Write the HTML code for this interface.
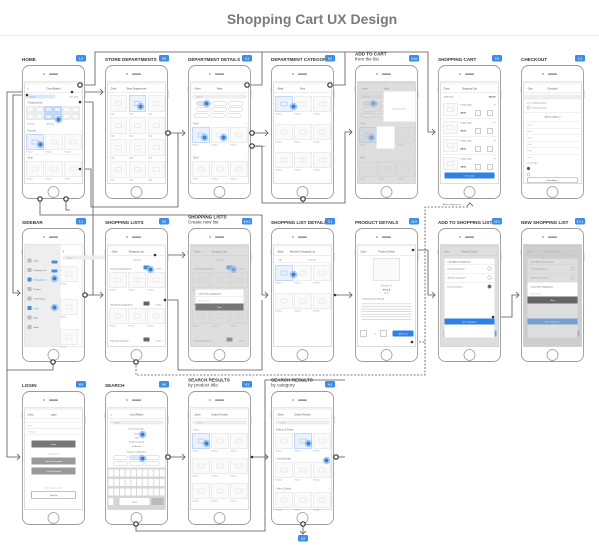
<!DOCTYPE html>
<html><head><meta charset="utf-8"><style>
html,body{margin:0;padding:0;background:#fff;width:599px;height:551px;overflow:hidden}
svg{display:block}
</style></head><body>
<svg id="s" width="599" height="551" viewBox="0 0 599 551" xmlns="http://www.w3.org/2000/svg" font-family="Liberation Sans, sans-serif">
<rect width="599" height="551" fill="#fff"/>
<text x="312" y="24" text-anchor="middle" font-size="14" font-weight="bold" fill="#7a7a7a">Shopping Cart UX Design</text>
<line x1="0" y1="35.5" x2="599" y2="35.5" stroke="#ececec" stroke-width="1"/>
<g id="g"></g>
</svg>
<script>
var g=document.getElementById('g');var out='';
function R(x,y,w,h,f,s,rx,sw){out+='<rect x="'+x+'" y="'+y+'" width="'+w+'" height="'+h+'" fill="'+(f||'none')+'" stroke="'+(s||'none')+'" stroke-width="'+(sw||0.6)+'" rx="'+(rx||0)+'"/>';}
function T(x,y,t,sz,c,b,a){out+='<text x="'+x+'" y="'+y+'" font-size="'+(sz||2.4)+'" fill="'+(c||'#777')+'"'+(b?' font-weight="bold"':'')+(a?' text-anchor="'+a+'"':'')+'>'+t+'</text>';}
function L(p,dash,c){out+='<polyline points="'+p+'" fill="none" stroke="'+(c||'#555')+'" stroke-width="0.8"'+(dash?' stroke-dasharray="2,1.5"':'')+'/>';}
function A(x,y,d){
 var s=3;var p;
 if(d=='r')p=(x-s)+','+(y-s)+' '+x+','+y+' '+(x-s)+','+(y+s);
 if(d=='d')p=(x-s)+','+(y-s)+' '+x+','+y+' '+(x+s)+','+(y-s);
 if(d=='u')p=(x-s)+','+(y+s)+' '+x+','+y+' '+(x+s)+','+(y+s);
 out+='<polyline points="'+p+'" fill="none" stroke="#555" stroke-width="0.8"/>';}
function N(x,y,ring){ if(ring){out+='<circle cx="'+x+'" cy="'+y+'" r="2.2" fill="#fff" stroke="#333" stroke-width="1.2"/>';} else out+='<circle cx="'+x+'" cy="'+y+'" r="1.3" fill="#333"/>';}
function tap(x,y){out+='<circle cx="'+x+'" cy="'+y+'" r="3.4" fill="#bcd7f7" stroke="#3b8de8" stroke-width="0.5" stroke-dasharray="1,0.6"/><circle cx="'+x+'" cy="'+y+'" r="2" fill="#2f80e6"/>';}
function img(x,y,w,h,c){R(x,y,w,h,c||'#fafafa',c?'#8fb8ee':'#ddd',0,0.5);R(x+w/2-3,y+h/2-2,6,4,'none',c?'#8fb8ee':'#ddd',0,0.5);}
function grid(x,y,rows,cols,gh,hl){var w=17,h=15;for(var r=0;r<rows;r++)for(var c=0;c<cols;c++){var bx=x+2+c*19,by=y+r*gh;img(bx,by,w,h,hl&&hl[0]==r&&hl[1]==c?'#eaf2fd':null);T(bx,by+18,'Product',1.8,'#888');}}
var cols=[22,105,188,271,355,438,521];
var rows=[65,228,391];
function phone(x,y,label,badge,two,fn){
 R(x+0.5,y+0.5,62,133,'#fff','#9a9a9a',7,0.9);
 R(x-0.3,y+22,0.8,5,'#aaa');R(x+62.5,y+25,0.8,8,'#aaa');
 out+='<circle cx="'+(x+22)+'" cy="'+(y+9)+'" r="0.8" fill="#777"/>';R(x+27,y+8.5,9,1.2,'#777','',0.6);
 out+='<circle cx="'+(x+31.5)+'" cy="'+(y+127)+'" r="5.5" fill="#fff" stroke="#9a9a9a" stroke-width="0.8"/>';
 R(x+2.5,y+16.5,58,102,'#fff','#bbb',0,0.5);
 var sx=x+2.5,sy=y+16.5;
 fn(sx,sy);
 if(two){T(x,y-9.5,label,4.6,'#333',1);T(x,y-4.5,two,4.6,'#444');}
 else T(x,y-4,label,4.6,'#333',1);
 R(x+54,y-10,10,6.5,'#3b8de8','',1.5);T(x+59,y-5.3,badge,3,'#fff',1,'middle');
}
function nav(sx,sy,l,c,dim){R(sx,sy,58,2.5,'#f3f3f3');T(sx+3,sy+8,l,2.4,'#555');T(sx+29,sy+8,c,2.4,'#555',0,'middle');out+='<line x1="'+sx+'" y1="'+(sy+11)+'" x2="'+(sx+58)+'" y2="'+(sy+11)+'" stroke="#ddd" stroke-width="0.5"/>';}
function search(sx,sy,y){R(sx+2,sy+y,54,4,'#eee','',1);T(sx+6,sy+y+3,'Search',2,'#999');}
function dim(sx,sy){R(sx,sy,58,102,'rgba(190,190,190,0.5)');}
function sec(sx,sy,y,t){T(sx+3,sy+y,t,2.4,'#777');T(sx+55,sy+y,'›',3,'#777');}
var S={};
S.home=function(x,y){nav(x,y,'≡','Good Market');R(x+1,y+13,30,4,'#dbe8f8','',1);T(x+5,y+16,'Search',2,'#3b8de8');T(x+45,y+16,'New Dept',2,'#3b8de8');
 sec(x,y,22,'Shopping lists');for(var i=0;i<6;i++){img(x+2+i*9,y+25,8,6,i==2||i==3?'#eaf2fd':null);img(x+2+i*9,y+32,8,6,i==2||i==3?'#eaf2fd':null);}T(x+3,y+43,'Evening',1.8);T(x+22,y+43,'Weekend',1.8,'#3b8de8');
 tap(x+34,y+38);sec(x,y,50,'Popular');grid(x,y+53,1,3,0,[0,0]);tap(x+16,y+63);R(x,y+73,58,0.4,'#ddd');sec(x,y,77,'Meat');grid(x,y+80,1,3,0);}
S.dept=function(x,y){nav(x,y,'Close','Store Departments');for(var r=0;r<4;r++)for(var c=0;c<3;c++){img(x+3+c*19,y+14+r*22,16,16,r==0&&c==1?'#eaf2fd':null);T(x+3+c*19,y+33+r*22,'Dept',1.8);}tap(x+33,y+25);}
S.detail=function(x,y){nav(x,y,'‹ Store','Meat');search(x,y,13);var ch=[[6,20],[22,20],[38,20],[6,26],[22,26],[38,26],[4,32],[20,32],[36,32]];ch.forEach(function(p,i){R(x+p[0],y+p[1],14,4,i==0?'#dbe8f8':'#fff','#bbb',2,0.4);});tap(x+16,y+22);
 sec(x,y,43,'Pork');grid(x,y+46,1,3,0,[0,0]);tap(x+14,y+56);tap(x+33,y+56);sec(x,y,77,'Beef');grid(x,y+80,1,3,0);}
S.cat=function(x,y){nav(x,y,'‹ Back','Pork');grid(x,y+15,3,3,28,[0,0]);tap(x+20,y+25);}
S.addcart=function(x,y){S.detail(x,y);dim(x,y);R(x+26,y+10,32,30,'#fff');T(x+42,y+28,'Drag product here',1.8,'#999',0,'middle');R(x+19,y+45,18,22,'#fff');};
S.cart=function(x,y){nav(x,y,'Close','Shopping Cart');T(x+3,y+16,'Total Price',2.2,'#555');T(x+55,y+16,'$35.00',2.2,'#333',1,'end');for(var i=0;i<4;i++){var yy=y+20+i*18;img(x+3,yy+2,14,12);T(x+20,yy+4,'Product item',2,'#555');T(x+20,yy+12,'$4.00',2.2,'#333',1);R(x+35,yy+9,5,5,'#fff','#aaa');R(x+47,yy+9,5,5,'#fff','#aaa');T(x+55,yy+4,'×',3,'#777','', 'end');R(x,yy+17,58,0.4,'#ddd');}
 R(x+4,y+91,50,6,'#2f80e6','',1);T(x+29,y+95,'Checkout',2.2,'#fff',0,'middle');}
S.checkout=function(x,y){nav(x,y,'‹ Cart','Checkout');R(x,y+13,58,5,'#eee');T(x+3,y+22,'Choose shipping address',1.8);out+='<circle cx="'+(x+5)+'" cy="'+(y+26)+'" r="1.5" fill="none" stroke="#888" stroke-width="0.4"/>';T(x+8,y+27,'Chernivtsi, Ukraine',1.8);R(x,y+31,58,0.4,'#ddd');T(x+29,y+36,'Add New Address',2,'#555',0,'middle');
 for(var i=0;i<6;i++){R(x+2,y+40+i*6.5,54,0.4,'#ddd');T(x+4,y+44+i*6.5,'Field',1.8,'#aaa');}T(x+3,y+82,'Location Type',1.8);out+='<circle cx="'+(x+5)+'" cy="'+(y+87)+'" r="1.6" fill="#555"/><circle cx="'+(x+5)+'" cy="'+(y+93)+'" r="1.6" fill="none" stroke="#888" stroke-width="0.4"/>';R(x+4,y+96,50,5,'#fff','#999',1);T(x+29,y+99.5,'Save Address',1.8,'#555',0,'middle');}
S.sidebar=function(x,y){R(x,y,36,102,'#eee');var it=['Store','Shopping Cart','Shopping Lists','Recipes','Order History','Login','Help','About'];it.forEach(function(t,i){R(x+3,y+14+i*9.5,4,4,i==2||i==5?'#3b8de8':'#bbb');T(x+9,y+17+i*9.5,t,2,i==2||i==5?'#3b8de8':'#666');});
 R(x+27,y+16,6,3,'#3b8de8','',1);R(x+27,y+25,6,3,'#3b8de8','',1);tap(x+30,y+34);tap(x+30,y+63);R(x+36,y,22,102,'#fff');T(x+38,y+8,'≡',3,'#666');search(x+36,y-2,13);grid(x+34,y+22,1,1,0);grid(x+34,y+55,1,1,0);grid(x+34,y+85,1,1,0);}
S.lists=function(x,y){nav(x,y,'‹ Store','Shopping Lists');T(x+29,y+16,'+ New List',2,'#3b8de8',0,'middle');var t=['Evening shopping list','Weekend shopping list','Favourite products'];for(var i=0;i<3;i++){var yy=y+21+i*36;T(x+3,yy+4,t[i],2.2,'#555');R(x+36,yy,6,4,i==0?'#3b8de8':'#666','',0.5);T(x+55,yy+4,'4 items ›',1.8,'#777',0,'end');if(i<2)grid(x,yy+7,1,3,0);}tap(x+43,y+25);}
S.newlist=function(x,y){S.lists(x,y);dim(x,y);R(x+5,y+45,48,20,'#fff');T(x+8,y+50,'Cancel   New shopping list',2,'#444');R(x+5,y+52,48,0.4,'#ddd');T(x+8,y+57,'Enter a name',1.8,'#aaa');R(x+5,y+59,48,7,'#777');T(x+29,y+63.5,'Save',2,'#fff',0,'middle');}
S.listdet=function(x,y){nav(x,y,'‹ Back','Weekend Shopping List');T(x+5,y+16,'Edit',2);T(x+35,y+16,'Remove',2);R(x,y+18,58,0.4,'#ddd');grid(x,y+21,2,3,28,[0,0]);tap(x+20,y+30);}
S.prod=function(x,y){nav(x,y,'Close','Product Details');R(x+16,y+14,26,22,'#fafafa','#ccc',0,0.5);T(x+29,y+42,'Product X',2.6,'#999',0,'middle');T(x+29,y+46,'Price $',2.2,'#444',1,'middle');T(x+29,y+49,'per lb',1.8,'#777',0,'middle');T(x+5,y+55,'Details   Nutrition   Related',2,'#666');for(var i=0;i<7;i++)R(x+4,y+59+i*2.6,50,0.7,'#ccc');R(x+3,y+86,6,6,'#fff','#aaa');T(x+17,y+90,'1',2.2,'#555');R(x+23,y+86,6,6,'#fff','#aaa');R(x+35,y+86,21,6,'#2f80e6','',1);T(x+45.5,y+90,'Add to Cart',1.8,'#fff',0,'middle');}
S.addlist=function(x,y){S.prod(x,y);dim(x,y);R(x+4,y+14,50,79,'#fff');T(x+7,y+18,'Close   Add to Shopping list',2,'#444');var t=['Evening shopping list','Weekend shopping list','Favourite products'];for(var i=0;i<3;i++){R(x+4,y+20+i*9,50,0.4,'#ddd');T(x+7,y+25+i*9,t[i],1.8,'#666');out+='<circle cx="'+(x+49)+'" cy="'+(y+24+i*9)+'" r="1.8" fill="'+(i==2?'#666':'none')+'" stroke="#888" stroke-width="0.4"/>';}R(x+4,y+74,50,6,'#2f80e6');T(x+29,y+78,'New shopping list',1.8,'#fff',0,'middle');}
S.newlist2=function(x,y){S.addlist(x,y);dim(x,y);R(x+4,y+38,50,19,'#fff');T(x+7,y+43,'Cancel   New shopping list',2,'#444');T(x+7,y+50,'Enter a name',1.8,'#aaa');R(x+4,y+52,50,7,'#666');T(x+29,y+56.5,'Save',2,'#fff',0,'middle');}
S.login=function(x,y){nav(x,y,'Close','Login');R(x,y+15,58,6,'#fff','#ddd',0,0.4);T(x+3,y+19,'Email',1.8,'#aaa');R(x,y+21,58,6,'#fff','#ddd',0,0.4);T(x+3,y+25,'Password',1.8,'#aaa');R(x+7,y+33,44,7,'#777','',0.5);T(x+29,y+37.5,'Login',2,'#fff',0,'middle');T(x+29,y+47,'Login with social',1.6,'#aaa',0,'middle');R(x+7,y+50,44,7,'#999');T(x+29,y+54.5,'Login with Facebook',1.8,'#fff',0,'middle');R(x+7,y+60,44,7,'#999');T(x+29,y+64.5,'Login with Google',1.8,'#fff',0,'middle');T(x+29,y+81,"Don't have an account?",1.6,'#aaa',0,'middle');R(x+7,y+84,44,7,'#fff','#888',0.5);T(x+29,y+88.5,'Sign Up',2,'#555',0,'middle');}
S.search=function(x,y){nav(x,y,'≡','Good Market');search(x,y,13);T(x+29,y+22,'Latest Searches',2.2,'#666',0,'middle');T(x+29,y+27,'apple',2,'#3b8de8',0,'middle');T(x+29,y+31,'milk',2,'#666',0,'middle');T(x+29,y+35,'butternut squash',2,'#666',0,'middle');T(x+29,y+39.5,'shell steak',2,'#666',0,'middle');tap(x+35,y+27);T(x+29,y+45,'Popular Categories',2.2,'#666',0,'middle');for(var i=0;i<6;i++)R(x+6+(i%3)*16,y+48+Math.floor(i/3)*6,14,4,i==1?'#dbe8f8':'#fff','#bbb',2,0.4);tap(x+35,y+51);
 R(x,y+60,58,42,'#d6d6d6');for(var r=0;r<4;r++)for(var c=0;c<10;c++){if(r==3&&c>0)continue;R(x+1+c*5.7,y+62+r*9.5,4.8,7,'#fff','',0.5);}R(x+12,y+90.5,30,7,'#fff');T(x+27,y+95,'space',1.8,'#555',0,'middle');R(x+44,y+90.5,12,7,'#bbb');}
S.res=function(x,y){nav(x,y,'‹ Store','Search Results');search(x,y,13);T(x+3,y+23,'Fruits',2.2);grid(x,y+26,3,3,25,[0,0]);tap(x+16,y+36);}
S.rescat=function(x,y){nav(x,y,'‹ Store','Search Results');search(x,y,13);sec(x,y,23,'Bakery &amp; Pastry');grid(x,y+26,1,3,0,[0,1]);tap(x+35,y+36);sec(x,y,52,'Confectionary');grid(x,y+55,1,3,0);tap(x+53,y+53);sec(x,y,82,'Nuts &amp; Seeds');grid(x,y+85,1,3,0);}
var P=[
[0,0,'HOME','1.0','',S.home],[1,0,'STORE DEPARTMENTS','5.0','',S.dept],[2,0,'DEPARTMENT DETAILS','5.1','',S.detail],[3,0,'DEPARTMENT CATEGORY','5.2','',S.cat],[4,0,'ADD TO CART','5.1a','from the list',S.addcart],[5,0,'SHOPPING CART','2.0','',S.cart],[6,0,'CHECKOUT','2.1','',S.checkout],
[0,1,'SIDEBAR','1.1','',S.sidebar],[1,1,'SHOPPING LISTS','3.0','',S.lists],[2,1,'SHOPPING LISTS','3.0.1','Create new list',S.newlist],[3,1,'SHOPPING LIST DETAILS','3.1','',S.listdet],[4,1,'PRODUCT DETAILS','11.0','',S.prod],[5,1,'ADD TO SHOPPING LIST','11.1','',S.addlist],[6,1,'NEW SHOPPING LIST','3.1.1','',S.newlist2],
[0,2,'LOGIN','6.0','',S.login],[1,2,'SEARCH','4.0','',S.search],[2,2,'SEARCH RESULTS','4.1','by product title',S.res],[3,2,'SEARCH RESULTS','4.2','by category',S.rescat]];
L('80,85 95,85 95,52 428,52 428,132 435,132');A(435,132,'r');
L('247,85 262,85 262,52');L('330,85 345,85 345,52');
L('27,95 13,95 13,293 20,293');A(20,293,'r');
L('27,92 7,92 7,457 20,457');A(20,457,'r');
L('72,92 103,92');A(103,92,'r');
L('80,102 93,102 93,295 103,295');A(103,295,'r');L('85,295 93,295');
L('80,169 91,169 91,207 178,207 178,133');L('168,133 185,133');A(185,133,'r');
L('252,133 268,133');A(268,133,'r');
L('252,146 262,146 262,203 345,203 345,132 352,132');A(352,132,'r');
L('303,199 303,203');
L('40,199 40,215 262,215 262,295 268,295');A(268,295,'r');
L('66,199 66,210 70,210');
L('155,255 185,255');A(185,255,'r');
L('165,300 178,300 178,370 262,370 262,300');
L('335,295 352,295');A(352,295,'r');
L('413,250 428,250 428,295 435,295');A(435,295,'r');
L('493,317 512,317 512,295 519,295');A(519,295,'r');
L('412,342 425,342 425,207 470,207',1);A(470,203,'u');
L('136,362 136,375 425,375 425,342',1);
L('53,362 53,370 7,370');
L('168,457 185,457');A(185,457,'r');
L('252,457 265,457 265,380 345,380');L('265,457 268,457');A(268,457,'r');
L('136,524 136,531 265,531 265,457');
L('303,524 303,534');A(303,534,'d');
L('336,457 345,457');
g.innerHTML=out;out='';
P.forEach(function(p){phone(cols[p[0]],rows[p[1]],p[2],p[3],p[4],p[5]);});
T(443,205,'Add to shopping cart',2,'#555');T(255,147,'Tap &amp; Hold',2,'#555');
R(298,535,10,6.5,'#3b8de8','',1.5);T(303,539.7,'5.2',3,'#fff',1,'middle');
g.innerHTML+=out;out='';
[[80,85,1],[247,85,1],[330,85,1],[85,295,1],[168,133,1],[252,133,1],[252,146,1],[303,199,1],[40,199,1],[66,199,1],[155,255,0],[165,300,0],[335,295,0],[413,250,0],[493,317,0],[412,342,0],[136,362,1],[53,362,1],[168,457,1],[252,457,0],[136,524,1],[303,524,1],[336,457,1],[72,92,0],[27,95,0],[80,102,0],[80,169,0]].forEach(function(n){N(n[0],n[1],n[2]);});
g.innerHTML+=out;
</script>
</body></html>
